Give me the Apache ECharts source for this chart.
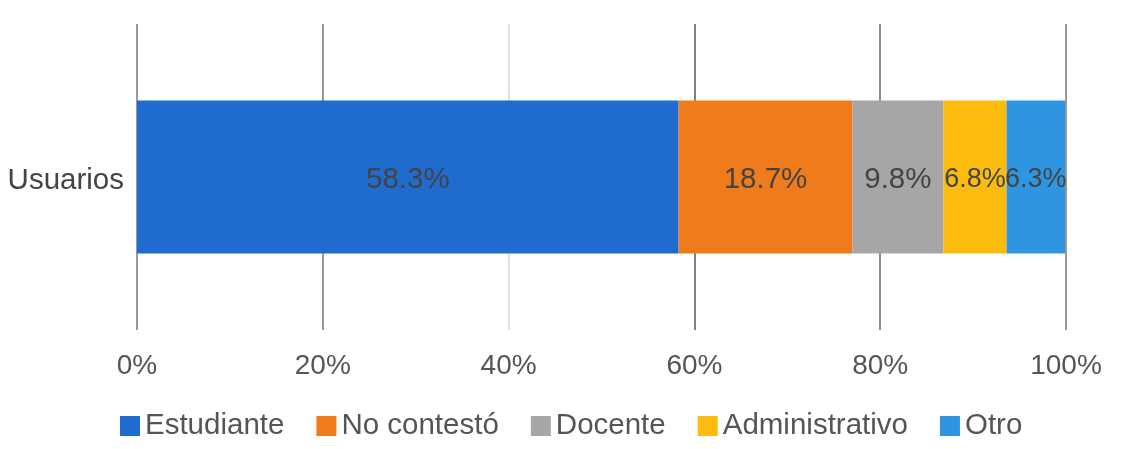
<!DOCTYPE html>
<html><head><meta charset="utf-8">
<style>html,body{margin:0;padding:0;background:#fff}#c{width:1122px;height:449px}</style>
<script src="https://cdn.jsdelivr.net/npm/echarts@6/dist/echarts.min.js"></script>
</head><body><div id="c"></div>
<script>
const categories = ['Usuarios'];
const seriesNames = ['Estudiante','No contestó','Docente','Administrativo','Otro'];
const seriesValues = [58.3,18.7,9.8,6.8,6.3];
const seriesColors = ['#1f6bce','#f07b1d','#a6a6a6','#fbbc0f','#2e95e0'];
const gridColors = ['#777777','#777777','#d4d4d4','#595959','#666666','#777777'];
const fontName = 'Liberation Sans, Arial, sans-serif';
const chart = echarts.init(document.getElementById('c'));
chart.setOption({
  animation:false,
  textStyle:{fontFamily:fontName},
  legend:{top:411,left:120,padding:0,itemWidth:20,itemHeight:20,itemGap:32,icon:'rect',itemStyle:{borderWidth:0},
    textStyle:{fontSize:29.5,color:'#555'},
    data:seriesNames},
  grid:{left:137,right:56,top:24,bottom:119},
  xAxis:{type:'value',min:0,max:100,interval:20,
    axisLabel:{formatter:'{value}%',fontSize:28,color:'#555',margin:22},
    axisLine:{show:false},axisTick:{show:false},
    splitLine:{show:true,lineStyle:{color:gridColors,width:1.5}}},
  yAxis:{type:'category',data:categories,
    axisLabel:{fontSize:29.5,color:'#444',margin:13,verticalAlign:'top',padding:[-11,0,0,0]},
    axisLine:{show:false},axisTick:{show:false}},
  series:seriesNames.map((n,i)=>({
    name:n,type:'bar',stack:'t',barWidth:153,
    data:[seriesValues[i]],
    itemStyle:{color:seriesColors[i]},
    label:{show:true,position:'inside',offset:[0,3],formatter:seriesValues[i].toFixed(1)+'%',
      fontSize:seriesValues[i]<8?27:29.5,color:'#444'}
  }))
});
</script></body></html>
